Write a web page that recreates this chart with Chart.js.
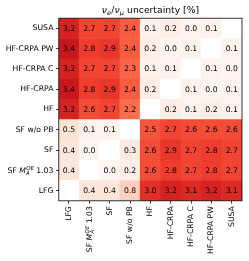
<!DOCTYPE html>
<html><head><meta charset="utf-8">
<script src="https://cdn.jsdelivr.net/npm/chart.js@4"></script>
<style>html,body{margin:0;padding:0;background:#fff;overflow:hidden}</style>
</head><body>
<canvas id="c" width="249" height="261"></canvas>
<script>
// Categories (left-to-right on x, bottom-to-top on y)
const models = ['LFG', 'SF M_A^QE 1.03', 'SF', 'SF w/o PB', 'HF', 'HF-CRPA', 'HF-CRPA C', 'HF-CRPA PW', 'SUSA'];
const titleText = 'ν_e/ν_μ uncertainty [%]';

// Cell values per row (columns in the order of `models`); null = diagonal (blank)
const rowLFG      = [null, 0.4, 0.4, 0.8, 3.0, 3.2, 3.1, 3.2, 3.1];
const rowSFMA     = [0.4, null, 0.0, 0.2, 2.6, 2.8, 2.7, 2.8, 2.7];
const rowSF       = [0.4, 0.0, null, 0.3, 2.6, 2.9, 2.7, 2.8, 2.7];
const rowSFwoPB   = [0.5, 0.1, 0.1, null, 2.5, 2.7, 2.6, 2.6, 2.6];
const rowHF       = [3.2, 2.6, 2.7, 2.2, null, 0.2, 0.1, 0.2, 0.1];
const rowHFCRPA   = [3.4, 2.8, 2.9, 2.4, 0.2, null, 0.1, 0.0, 0.1];
const rowHFCRPAC  = [3.2, 2.7, 2.7, 2.3, 0.1, 0.1, null, 0.1, 0.0];
const rowHFCRPAPW = [3.4, 2.8, 2.9, 2.4, 0.2, 0.0, 0.1, null, 0.1];
const rowSUSA     = [3.2, 2.7, 2.7, 2.4, 0.1, 0.2, 0.0, 0.1, null];

const rowsBottomUp = [rowLFG, rowSFMA, rowSF, rowSFwoPB, rowHF, rowHFCRPA, rowHFCRPAC, rowHFCRPAPW, rowSUSA];

const VMIN = 0, VMAX = 4.5;
const REDS = ['#fff5f0','#fee0d2','#fcbba1','#fc9272','#fb6a4a','#ef3b2c','#cb181d','#a50f15','#67000d'];
function hex(c){return [parseInt(c.slice(1,3),16),parseInt(c.slice(3,5),16),parseInt(c.slice(5,7),16)];}
function reds(v){
  if (v === null) return '#ffffff';
  let t = (v - VMIN) / (VMAX - VMIN); t = Math.max(0, Math.min(1, t));
  const p = t * (REDS.length - 1); const i = Math.min(Math.floor(p), REDS.length - 2); const f = p - i;
  const a = hex(REDS[i]), b = hex(REDS[i+1]);
  return 'rgb(' + a.map((x,k)=>Math.round(x + (b[k]-x)*f)).join(',') + ')';
}

const FS = 7.7, TFS = 9.24, FAM = '"DejaVu Sans"';
const TICK_LEN = 2.7, TICK_PAD = 2.7;

// Parse simple math-like label into parts
function richParts(label){
  if (label === 'SF M_A^QE 1.03') return [{t:'SF '},{t:'M',it:true},{sub:'A',sup:'QE',it:true},{t:' 1.03'}];
  if (label === 'ν_e/ν_μ uncertainty [%]') return [{t:'ν',it:true},{sub:'e',it:true},{t:'/'},{t:'ν',it:true},{sub:'μ',it:true},{t:' uncertainty [%]'}];
  return [{t:label}];
}
function font(sz,it){return (it?'italic ':'') + sz + 'px ' + FAM;}
function richWidth(ctx, parts, fs){
  let w = 0;
  for (const p of parts){
    if (p.t !== undefined){ctx.font = font(fs,p.it); w += ctx.measureText(p.t).width;}
    else { ctx.font = font(fs*0.7,p.it);
      const ws = p.sub ? ctx.measureText(p.sub).width : 0;
      const wp = p.sup ? ctx.measureText(p.sup).width : 0;
      w += Math.max(ws,wp) + fs*0.05; }
  }
  return w;
}
function drawRich(ctx, parts, fs, x, baseline){
  let cx = x;
  ctx.textAlign = 'left'; ctx.textBaseline = 'alphabetic';
  for (const p of parts){
    if (p.t !== undefined){ctx.font = font(fs,p.it); ctx.fillText(p.t, cx, baseline); cx += ctx.measureText(p.t).width;}
    else {
      ctx.font = font(fs*0.7,p.it);
      let ws = 0, wp = 0;
      const both = p.sub && p.sup;
      if (p.sub){ ctx.fillText(p.sub, cx + fs*0.02, baseline + fs*(both?0.3:0.22)); ws = ctx.measureText(p.sub).width; }
      if (p.sup){ ctx.fillText(p.sup, cx + fs*0.05, baseline - fs*0.42); wp = ctx.measureText(p.sup).width; }
      cx += Math.max(ws,wp) + fs*0.05;
    }
  }
}
const isRich = l => l === 'SF M_A^QE 1.03';

const heatPlugin = {
  id: 'heat',
  afterDatasetsDraw(chart){
    const ctx = chart.ctx;
    ctx.save();
    ctx.fillStyle = '#000'; ctx.font = font(FS,false);
    ctx.textAlign = 'center'; ctx.textBaseline = 'middle';
    rowsBottomUp.forEach((row, d) => {
      const meta = chart.getDatasetMeta(d);
      meta.data.forEach((el, i) => {
        const v = row[i];
        if (v === null) return;
        ctx.fillText(v.toFixed(1), el.x, (el.y + el.base)/2 + 0.5);
      });
    });
    ctx.restore();
  },
  afterDraw(chart){
    const ctx = chart.ctx, a = chart.chartArea;
    ctx.save();
    // frame (all four spines)
    ctx.strokeStyle = '#000'; ctx.lineWidth = 0.8;
    ctx.strokeRect(a.left, a.top, a.right - a.left, a.bottom - a.top);
    ctx.fillStyle = '#000';
    // title
    const tp = richParts(titleText);
    const tw = richWidth(ctx, tp, TFS);
    drawRich(ctx, tp, TFS, (a.left + a.right)/2 - tw/2, 13.3);
    // special rich tick labels
    const xs = chart.scales.x, ys = chart.scales.y;
    models.forEach((lab, i) => {
      if (!isRich(lab)) return;
      const parts = richParts(lab);
      const w = richWidth(ctx, parts, FS);
      // y axis label (right aligned)
      const yc = ys.getPixelForValue(i + 0.5);
      drawRich(ctx, parts, FS, a.left - TICK_LEN - TICK_PAD - w, yc + FS*0.36);
      // x axis label (rotated -90)
      const xc = xs.getPixelForValue(i);
      ctx.save();
      ctx.translate(xc, a.bottom + TICK_LEN + TICK_PAD);
      ctx.rotate(-Math.PI/2);
      drawRich(ctx, parts, FS, -w, FS*0.36);
      ctx.restore();
    });
    ctx.restore();
  }
};

const datasets = rowsBottomUp.map((row, d) => ({
  label: models[d],
  data: row.map(() => 1),
  backgroundColor: row.map(v => reds(v)),
  borderWidth: 0,
  barPercentage: 1,
  categoryPercentage: 1
}));

new Chart(document.getElementById('c'), {
  type: 'bar',
  data: { labels: models, datasets },
  options: {
    responsive: false,
    animation: false,
    layout: { padding: { left: 0, right: 7, top: 18.2, bottom: 0 } },
    plugins: { legend: { display: false }, tooltip: { enabled: false }, title: { display: false } },
    scales: {
      x: {
        stacked: true,
        offset: true,
        border: { display: false },
        grid: { display: true, drawOnChartArea: false, offset: false, tickLength: TICK_LEN, color: '#000', lineWidth: 0.8 },
        ticks: {
          autoSkip: false, minRotation: 90, maxRotation: 90, padding: TICK_PAD, color: '#000',
          font: { family: 'DejaVu Sans', size: FS },
          callback: (v, i) => isRich(models[i]) ? '' : models[i]
        },
        afterFit: s => { s.height = 261 - 200.8; }
      },
      y: {
        stacked: true,
        min: 0, max: models.length,
        border: { display: false },
        grid: { display: true, drawOnChartArea: false, tickLength: TICK_LEN, color: '#000', lineWidth: 0.8 },
        afterBuildTicks: s => { s.ticks = models.map((m, i) => ({ value: i + 0.5 })); },
        ticks: {
          padding: TICK_PAD, color: '#000',
          font: { family: 'DejaVu Sans', size: FS },
          callback: (v, i) => isRich(models[i]) ? '' : models[i]
        },
        afterFit: s => { s.width = 58.8; }
      }
    }
  },
  plugins: [heatPlugin]
});
</script>
</body></html>
